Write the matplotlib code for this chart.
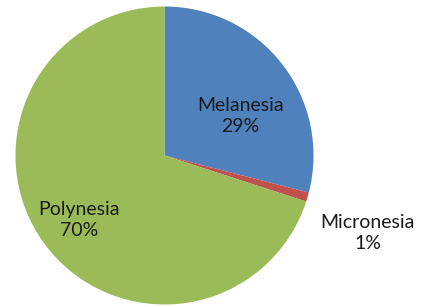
import matplotlib.pyplot as plt

regions = ["Melanesia", "Micronesia", "Polynesia"]
shares = [29, 1, 70]
colors = ["#4F81BD", "#C0504D", "#9BBB59"]

W, H = 422, 307
fig = plt.figure(figsize=(W / 100, H / 100), dpi=100)

# pie centre (164.5, 155.5) px from top-left, radius 149 px
cx, cy, r = 164.5, 155.5, 149
ax = fig.add_axes([(cx - r) / W, (H - cy - r) / H, 2 * r / W, 2 * r / H])
ax.pie(shares, colors=colors, startangle=90, counterclock=False,
       radius=1, wedgeprops=dict(linewidth=0))
ax.set_xlim(-1, 1)
ax.set_ylim(-1, 1)
ax.set_aspect("equal")
ax.axis("off")

# label centres in pixels
label_pos = [(240.5, 116), (367.5, 233), (79, 220)]
for name, val, (px, py) in zip(regions, shares, label_pos):
    ax.text((px - cx) / r, (cy - py) / r, "%s\n%d%%" % (name, val),
            ha="center", va="center", fontsize=14, family="Lato",
            color="#1a1a1a", linespacing=1.25)

fig.savefig("out.png", dpi=100)
